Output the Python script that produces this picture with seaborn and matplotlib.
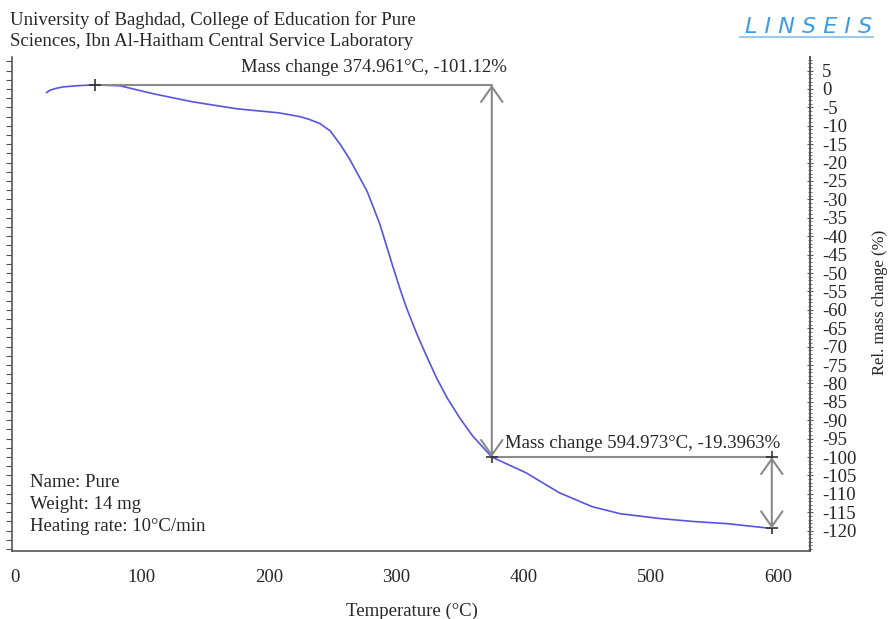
import matplotlib
matplotlib.use('Agg')
import matplotlib.pyplot as plt
import seaborn as sns
import pandas as pd
from matplotlib.lines import Line2D
from matplotlib.ticker import MultipleLocator

# TGA curve
temp = [25, 28, 33, 38, 50, 63, 83, 109, 140, 175, 208, 224, 231, 240, 248, 256, 263,
        277, 287, 297, 303, 308, 316, 324, 332, 340, 350, 360, 375, 402, 428, 454,
        476, 507, 533, 560, 595]
mass = [-1.0, -0.3, 0.2, 0.55, 0.9, 1.12, 0.85, -1.3, -3.5, -5.4, -6.5, -7.5, -8.2,
        -9.4, -11.4, -15.1, -18.9, -27.8, -36.7, -48.0, -54.5, -59.5, -66.5, -72.8,
        -78.8, -84.0, -89.5, -94.3, -100.0, -104.3, -109.7, -113.5, -115.4, -116.7,
        -117.5, -118.1, -119.4]

# mass change steps
peak_temp, peak_mass = 63, 1.12
step1_temp, step1_mass = 374.961, -100.0
step2_temp, step2_mass = 594.973, -119.3963
step1_label = 'Mass change 374.961°C, -101.12%'
step2_label = 'Mass change 594.973°C, -19.3963%'

info_lines = ['Name: Pure', 'Weight: 14 mg', 'Heating rate: 10°C/min']
header = ['University of Baghdad, College of Education for Pure',
          'Sciences, Ibn Al-Haitham Central Service Laboratory']

df = pd.DataFrame({'Temperature': temp, 'Mass': mass})

sns.set_theme(style='white')
plt.rcParams['font.family'] = ['Liberation Serif', 'DejaVu Serif']
plt.rcParams['axes.unicode_minus'] = False

fig = plt.figure(figsize=(8.91, 6.19), dpi=100)
ax = fig.add_axes([0.0135, 0.110, 0.8956, 0.798])

sns.lineplot(data=df, x='Temperature', y='Mass', ax=ax, color='#5555dd', lw=1.2)

ax.set_xlim(-2, 625)
ax.set_ylim(-125.5, 8.7)

grey = '#8a8a8a'
# horizontal reference lines
ax.plot([peak_temp, step1_temp], [peak_mass, peak_mass], color=grey, lw=1.5)
ax.plot([step1_temp, step2_temp], [step1_mass, step1_mass], color=grey, lw=1.5)
# double arrows
arrow = dict(arrowstyle='<->,head_length=0.5,head_width=0.35', color=grey, lw=1.5,
             shrinkA=0, shrinkB=0, mutation_scale=22)
ax.annotate('', xy=(step1_temp, peak_mass), xytext=(step1_temp, step1_mass), arrowprops=arrow)
ax.annotate('', xy=(step2_temp, step1_mass), xytext=(step2_temp, step2_mass), arrowprops=arrow)
# point markers
ax.plot([peak_temp, step1_temp, step2_temp, step2_temp],
        [peak_mass, step1_mass, step1_mass, step2_mass],
        ls='none', marker='+', ms=8, mew=1.2, color='#333333')

ax.text(step1_temp + 12, peak_mass + 2.3, step1_label, ha='right', va='bottom', fontsize=13.5)
ax.text(step1_temp + 10, step1_mass + 1.5, step2_label, ha='left', va='bottom', fontsize=13.5)

for i, line in enumerate(info_lines):
    ax.text(0.023, 0.138 - i * 0.0445, line, transform=ax.transAxes, fontsize=13.5,
            ha='left', va='center')

# axes styling
ax.spines['top'].set_visible(False)
for side in ['left', 'right', 'bottom']:
    ax.spines[side].set_color('#555555')
    ax.spines[side].set_linewidth(1.2)

ax.xaxis.set_major_locator(MultipleLocator(100))
ax.xaxis.set_minor_locator(MultipleLocator(20))
ax.tick_params(axis='x', which='major', direction='out', length=5, width=1,
               color='#555555', labelsize=13.5, pad=8)
ax.tick_params(axis='x', which='minor', direction='out', length=3, width=0.8,
               color='#555555')
ax.yaxis.set_major_locator(MultipleLocator(2.5))
ax.tick_params(axis='y', which='major', direction='out', length=4, width=0.8,
               color='#555555', labelleft=False)

ax2 = ax.twinx()
ax2.set_ylim(ax.get_ylim())
ax2.yaxis.set_minor_locator(MultipleLocator(1))
ax2.set_yticks(list(range(5, -121, -5)))
ax2.tick_params(axis='y', which='major', direction='inout', length=5, width=0.8,
                color='#555555', labelsize=13.5, pad=6)
ax2.tick_params(axis='y', which='minor', direction='inout', length=3, width=0.6,
                color='#555555')
for side in ['top', 'left', 'bottom']:
    ax2.spines[side].set_visible(False)
ax2.spines['right'].set_color('#555555')
ax2.spines['right'].set_linewidth(1.2)
ax2.grid(False)

ax.set_xlabel('')
ax.set_ylabel('')
ax.grid(False)

fig.text(412 / 891, 1 - 611 / 619, 'Temperature (°C)', fontsize=13.5, ha='center', va='center')
fig.text(880 / 891, 1 - 302 / 619, 'Rel. mass change (%)', fontsize=12, rotation=90,
         ha='center', va='center')

fig.text(10 / 891, 1 - 20 / 619, header[0], fontsize=13.5, va='center', ha='left')
fig.text(10 / 891, 1 - 41 / 619, header[1], fontsize=13.5, va='center', ha='left')

fig.text(872 / 891, 1 - 27 / 619, 'L I N S E I S', fontsize=16, style='italic',
         color='#3d9be0', ha='right', va='center', family='DejaVu Sans')
fig.add_artist(Line2D([740 / 891, 873 / 891], [1 - 37 / 619, 1 - 37 / 619],
                      color='#9cc9ee', lw=1.5))

fig.savefig('out.png', dpi=100)
